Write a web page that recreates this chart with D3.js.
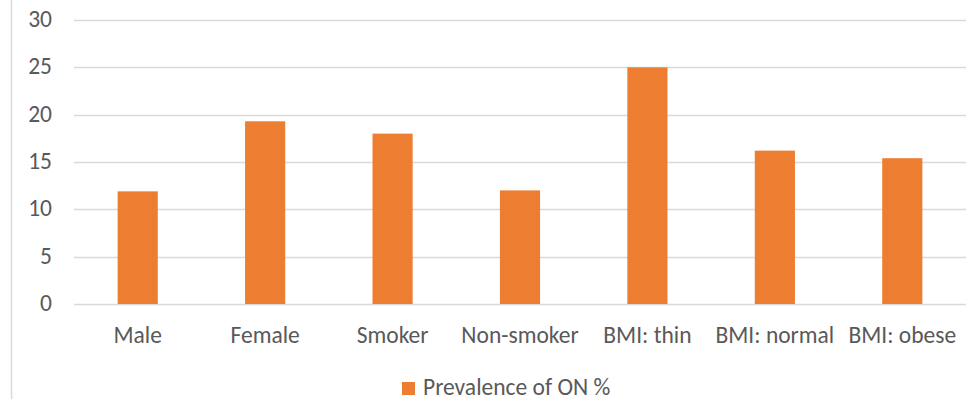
<!DOCTYPE html>
<html>
<head>
<meta charset="utf-8">
<script src="https://cdn.jsdelivr.net/npm/d3@7"></script>
<style>
  html, body { margin: 0; padding: 0; background: #fff; }
  svg text { font-family: Carlito, Lato, "Open Sans", sans-serif; fill: #595959; }
</style>
</head>
<body>
<svg id="chart" width="970" height="399"></svg>
<script>
const categories = ["Male", "Female", "Smoker", "Non-smoker", "BMI: thin", "BMI: normal", "BMI: obese"];
const prevalence = [11.9, 19.3, 18.0, 12.0, 25.0, 16.2, 15.4];
const yTicks = [0, 5, 10, 15, 20, 25, 30];
const seriesName = "Prevalence of ON %";

const svg = d3.select("#chart");
const W = 970, H = 399;
const margin = { left: 74, right: 4 };
const FONT = "23.5px";

// frame edge on the left
svg.append("line")
  .attr("x1", 11.5).attr("x2", 11.5).attr("y1", 0).attr("y2", H)
  .attr("stroke", "#d9d9d9").attr("stroke-width", 1.5);

const x = d3.scaleBand()
  .domain(categories)
  .range([margin.left, W - margin.right])
  .paddingInner(0.685).paddingOuter(0.3425);

const y = d3.scaleLinear()
  .domain([0, 30])
  .range([304, 20]);

// horizontal gridlines
svg.append("g")
  .selectAll("line")
  .data(yTicks)
  .join("line")
  .attr("x1", margin.left).attr("x2", W - margin.right)
  .attr("y1", d => Math.round(y(d)) + 0.5).attr("y2", d => Math.round(y(d)) + 0.5)
  .attr("stroke", "#d9d9d9").attr("stroke-width", 1.5);

// y-axis tick labels
const yAxis = d3.axisLeft(y).tickValues(yTicks).tickSize(0).tickPadding(0);
const gy = svg.append("g").attr("transform", "translate(52,0)").call(yAxis);
gy.select(".domain").remove();
gy.selectAll("text")
  .attr("dy", "0.27em")
  .style("font-size", FONT)
  .attr("fill", "#595959");

// bars
svg.append("g")
  .selectAll("rect")
  .data(categories.map((c, i) => ({ c, v: prevalence[i] })))
  .join("rect")
  .attr("x", d => x(d.c))
  .attr("width", x.bandwidth())
  .attr("y", d => y(d.v))
  .attr("height", d => y(0) - y(d.v))
  .attr("fill", "#ed7d31");

// category labels
const xAxis = d3.axisBottom(x).tickSize(0).tickPadding(0);
const gx = svg.append("g").attr("transform", "translate(0,343)").call(xAxis);
gx.select(".domain").remove();
gx.selectAll("text")
  .attr("dy", 0)
  .style("font-size", FONT)
  .attr("fill", "#595959");

// legend
const legend = svg.append("g").attr("transform", "translate(402,382)");
legend.append("rect")
  .attr("width", 13).attr("height", 13)
  .attr("fill", "#ed7d31");
legend.append("text")
  .attr("x", 21).attr("y", 12.5)
  .style("font-size", FONT)
  .text(seriesName);
</script>
</body>
</html>
